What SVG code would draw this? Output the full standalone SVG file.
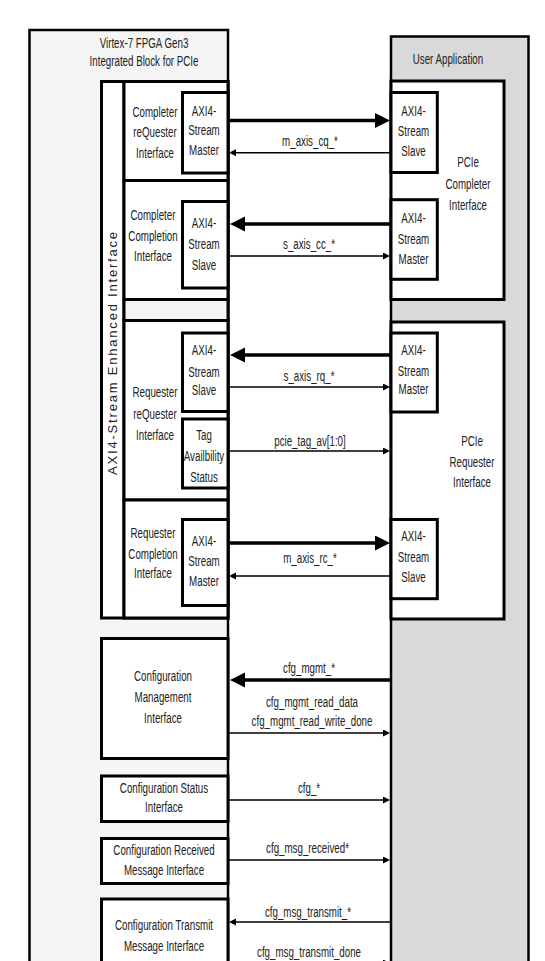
<svg xmlns="http://www.w3.org/2000/svg" width="545" height="961" viewBox="0 0 545 961">
<style>
.t{font-family:"Liberation Sans",Arial,sans-serif;font-size:15px;fill:#222;text-anchor:middle}
.v{font-family:"Liberation Sans",Arial,sans-serif;font-size:13px;fill:#222;text-anchor:middle;letter-spacing:1.8px}
.box{fill:#fff;stroke:#000;stroke-width:3}
.outer{stroke:#000;stroke-width:2.5}
.thick{stroke:#000;stroke-width:3.3;fill:none}
.thin{stroke:#000;stroke-width:1.6;fill:none}
</style>
<defs>
<marker id="big" markerUnits="userSpaceOnUse" markerWidth="16" markerHeight="16" refX="6" refY="7.5" orient="auto"><path d="M0,0 L15,7.5 L0,15 z" fill="#000"/></marker>
<marker id="sm" markerUnits="userSpaceOnUse" markerWidth="8" markerHeight="8" refX="3" refY="3.5" orient="auto"><path d="M0,0 L7,3.5 L0,7 z" fill="#000"/></marker>
</defs>
<rect width="545" height="961" fill="#fff"/>

<g id="virtex">
<rect class="outer" x="29.5" y="30" width="198.5" height="1000" fill="#f5f5f5"/>
<text class="t" transform="translate(144,0) scale(0.65,1)"><tspan x="0" y="48">Virtex-7 FPGA Gen3</tspan><tspan x="0" y="66.5">Integrated Block for PCIe</tspan></text>
</g>

<g id="user-app">
<rect class="outer" x="391" y="36.5" width="137.5" height="1000" fill="#d9d9d9"/>
<text class="t" transform="translate(448,64) scale(0.65,1)">User Application</text>
</g>

<g id="stream-enhanced">
<rect class="box" x="101.5" y="81.5" width="126.5" height="536.5"/>
<line x1="124" y1="81.5" x2="124" y2="618" stroke="#000" stroke-width="3"/>
<rect class="box" x="124" y="299.5" width="104" height="21" fill="#f5f5f5" style="fill:#f5f5f5"/>
<text class="v" transform="translate(117,352.5) rotate(-90)">AXI4-Stream Enhanced Interface</text>
</g>

<g id="completer-requester">
<rect class="box" x="124" y="81.5" width="104" height="99"/>
<text class="t" transform="translate(155,0) scale(0.65,1)"><tspan x="0" y="117">Completer</tspan><tspan x="0" y="137.5">reQuester</tspan><tspan x="0" y="158">Interface</tspan></text>
<rect class="box" x="182.5" y="92.5" width="45.5" height="80.5"/>
<text class="t" transform="translate(204,0) scale(0.65,1)"><tspan x="0" y="116">AXI4-</tspan><tspan x="0" y="135.5">Stream</tspan><tspan x="0" y="155">Master</tspan></text>
</g>

<g id="completer-completion">
<rect class="box" x="124" y="180.5" width="104" height="119"/>
<text class="t" transform="translate(153,0) scale(0.65,1)"><tspan x="0" y="220">Completer</tspan><tspan x="0" y="241">Completion</tspan><tspan x="0" y="261">Interface</tspan></text>
<rect class="box" x="182.5" y="201.5" width="45.5" height="86.5"/>
<text class="t" transform="translate(204,0) scale(0.65,1)"><tspan x="0" y="228">AXI4-</tspan><tspan x="0" y="249">Stream</tspan><tspan x="0" y="270.5">Slave</tspan></text>
</g>

<g id="requester-requester">
<rect class="box" x="124" y="320.5" width="104" height="179.5"/>
<text class="t" transform="translate(155,0) scale(0.65,1)"><tspan x="0" y="397.5">Requester</tspan><tspan x="0" y="419">reQuester</tspan><tspan x="0" y="440.5">Interface</tspan></text>
<rect class="box" x="182.5" y="333" width="45.5" height="78.5"/>
<text class="t" transform="translate(204,0) scale(0.65,1)"><tspan x="0" y="355.5">AXI4-</tspan><tspan x="0" y="377">Stream</tspan><tspan x="0" y="395.5">Slave</tspan></text>
<rect class="box" x="182.5" y="419" width="45.5" height="69"/>
<text class="t" transform="translate(204,0) scale(0.65,1)"><tspan x="0" y="440">Tag</tspan><tspan x="0" y="461">Availbility</tspan><tspan x="0" y="482">Status</tspan></text>
</g>

<g id="requester-completion">
<rect class="box" x="124" y="500" width="104" height="118"/>
<text class="t" transform="translate(153,0) scale(0.65,1)"><tspan x="0" y="538">Requester</tspan><tspan x="0" y="559">Completion</tspan><tspan x="0" y="578.5">Interface</tspan></text>
<rect class="box" x="182.5" y="519.5" width="45.5" height="86"/>
<text class="t" transform="translate(204,0) scale(0.65,1)"><tspan x="0" y="546">AXI4-</tspan><tspan x="0" y="566">Stream</tspan><tspan x="0" y="586">Master</tspan></text>
</g>

<g id="pcie-completer">
<rect class="box" x="391" y="81" width="113" height="218.5"/>
<text class="t" transform="translate(468,0) scale(0.65,1)"><tspan x="0" y="167.5">PCIe</tspan><tspan x="0" y="189">Completer</tspan><tspan x="0" y="210.5">Interface</tspan></text>
<rect class="box" x="391" y="92.5" width="46.3" height="80"/>
<text class="t" transform="translate(413.5,0) scale(0.65,1)"><tspan x="0" y="116">AXI4-</tspan><tspan x="0" y="136.5">Stream</tspan><tspan x="0" y="156.5">Slave</tspan></text>
<rect class="box" x="391" y="199.7" width="46.3" height="79.6"/>
<text class="t" transform="translate(413.5,0) scale(0.65,1)"><tspan x="0" y="223">AXI4-</tspan><tspan x="0" y="244">Stream</tspan><tspan x="0" y="264">Master</tspan></text>
</g>

<g id="pcie-requester">
<rect class="box" x="391" y="322" width="113" height="297"/>
<text class="t" transform="translate(472,0) scale(0.65,1)"><tspan x="0" y="446">PCIe</tspan><tspan x="0" y="467">Requester</tspan><tspan x="0" y="487.5">Interface</tspan></text>
<rect class="box" x="391" y="333" width="46.3" height="79"/>
<text class="t" transform="translate(413.5,0) scale(0.65,1)"><tspan x="0" y="355.5">AXI4-</tspan><tspan x="0" y="376">Stream</tspan><tspan x="0" y="394">Master</tspan></text>
<rect class="box" x="391" y="519.5" width="46.3" height="79.2"/>
<text class="t" transform="translate(413.5,0) scale(0.65,1)"><tspan x="0" y="541">AXI4-</tspan><tspan x="0" y="562">Stream</tspan><tspan x="0" y="582">Slave</tspan></text>
</g>

<g id="cfg-mgmt">
<rect class="box" x="101.5" y="638.5" width="126.5" height="120"/>
<text class="t" transform="translate(163,0) scale(0.65,1)"><tspan x="0" y="681">Configuration</tspan><tspan x="0" y="702">Management</tspan><tspan x="0" y="723">Interface</tspan></text>
</g>

<g id="cfg-status">
<rect class="box" x="101.5" y="776" width="126.5" height="45.5"/>
<text class="t" transform="translate(164,0) scale(0.65,1)"><tspan x="0" y="793">Configuration Status</tspan><tspan x="0" y="812.5">Interface</tspan></text>
</g>

<g id="cfg-received">
<rect class="box" x="101.5" y="838.5" width="126.5" height="45"/>
<text class="t" transform="translate(164,0) scale(0.65,1)"><tspan x="0" y="855.5">Configuration Received</tspan><tspan x="0" y="875">Message Interface</tspan></text>
</g>

<g id="cfg-transmit">
<rect class="box" x="101.5" y="899" width="126.5" height="100"/>
<text class="t" transform="translate(164,0) scale(0.65,1)"><tspan x="0" y="930.5">Configuration Transmit</tspan><tspan x="0" y="951.5">Message Interface</tspan></text>
</g>

<g id="connectors">
<line class="thick" x1="228" y1="120.5" x2="381" y2="120.5" marker-end="url(#big)"/>
<line class="thin" x1="391" y1="152.7" x2="233" y2="152.7" marker-end="url(#sm)"/>
<text class="t" transform="translate(310,146) scale(0.65,1)">m_axis_cq_*</text>

<line class="thick" x1="391" y1="224" x2="239" y2="224" marker-end="url(#big)"/>
<line class="thin" x1="228" y1="256" x2="386" y2="256" marker-end="url(#sm)"/>
<text class="t" transform="translate(309,249) scale(0.65,1)">s_axis_cc_*</text>

<line class="thick" x1="391" y1="355" x2="239" y2="355" marker-end="url(#big)"/>
<line class="thin" x1="228" y1="387" x2="386" y2="387" marker-end="url(#sm)"/>
<text class="t" transform="translate(309,381) scale(0.65,1)">s_axis_rq_*</text>

<line class="thin" x1="228" y1="451" x2="386" y2="451" marker-end="url(#sm)"/>
<text class="t" transform="translate(310,445.5) scale(0.65,1)">pcie_tag_av[1:0]</text>

<line class="thick" x1="228" y1="543" x2="381" y2="543" marker-end="url(#big)"/>
<line class="thin" x1="391" y1="576" x2="233" y2="576" marker-end="url(#sm)"/>
<text class="t" transform="translate(310,563) scale(0.65,1)">m_axis_rc_*</text>

<line class="thick" x1="391" y1="680" x2="239" y2="680" marker-end="url(#big)"/>
<text class="t" transform="translate(309,672.5) scale(0.65,1)">cfg_mgmt_*</text>
<line class="thin" x1="228" y1="733" x2="386" y2="733" marker-end="url(#sm)"/>
<text class="t" transform="translate(312,0) scale(0.65,1)"><tspan x="0" y="707">cfg_mgmt_read_data</tspan><tspan x="0" y="726">cfg_mgmt_read_write_done</tspan></text>

<line class="thin" x1="228" y1="800" x2="386" y2="800" marker-end="url(#sm)"/>
<text class="t" transform="translate(309,793) scale(0.65,1)">cfg_*</text>

<line class="thin" x1="228" y1="860" x2="386" y2="860" marker-end="url(#sm)"/>
<text class="t" transform="translate(307.5,853) scale(0.65,1)">cfg_msg_received*</text>

<line class="thin" x1="391" y1="922" x2="233" y2="922" marker-end="url(#sm)"/>
<text class="t" transform="translate(308,916.5) scale(0.65,1)">cfg_msg_transmit_*</text>

<line class="thin" x1="228" y1="963" x2="386" y2="963" marker-end="url(#sm)"/>
<text class="t" transform="translate(309,956.5) scale(0.65,1)">cfg_msg_transmit_done</text>
</g>
</svg>
